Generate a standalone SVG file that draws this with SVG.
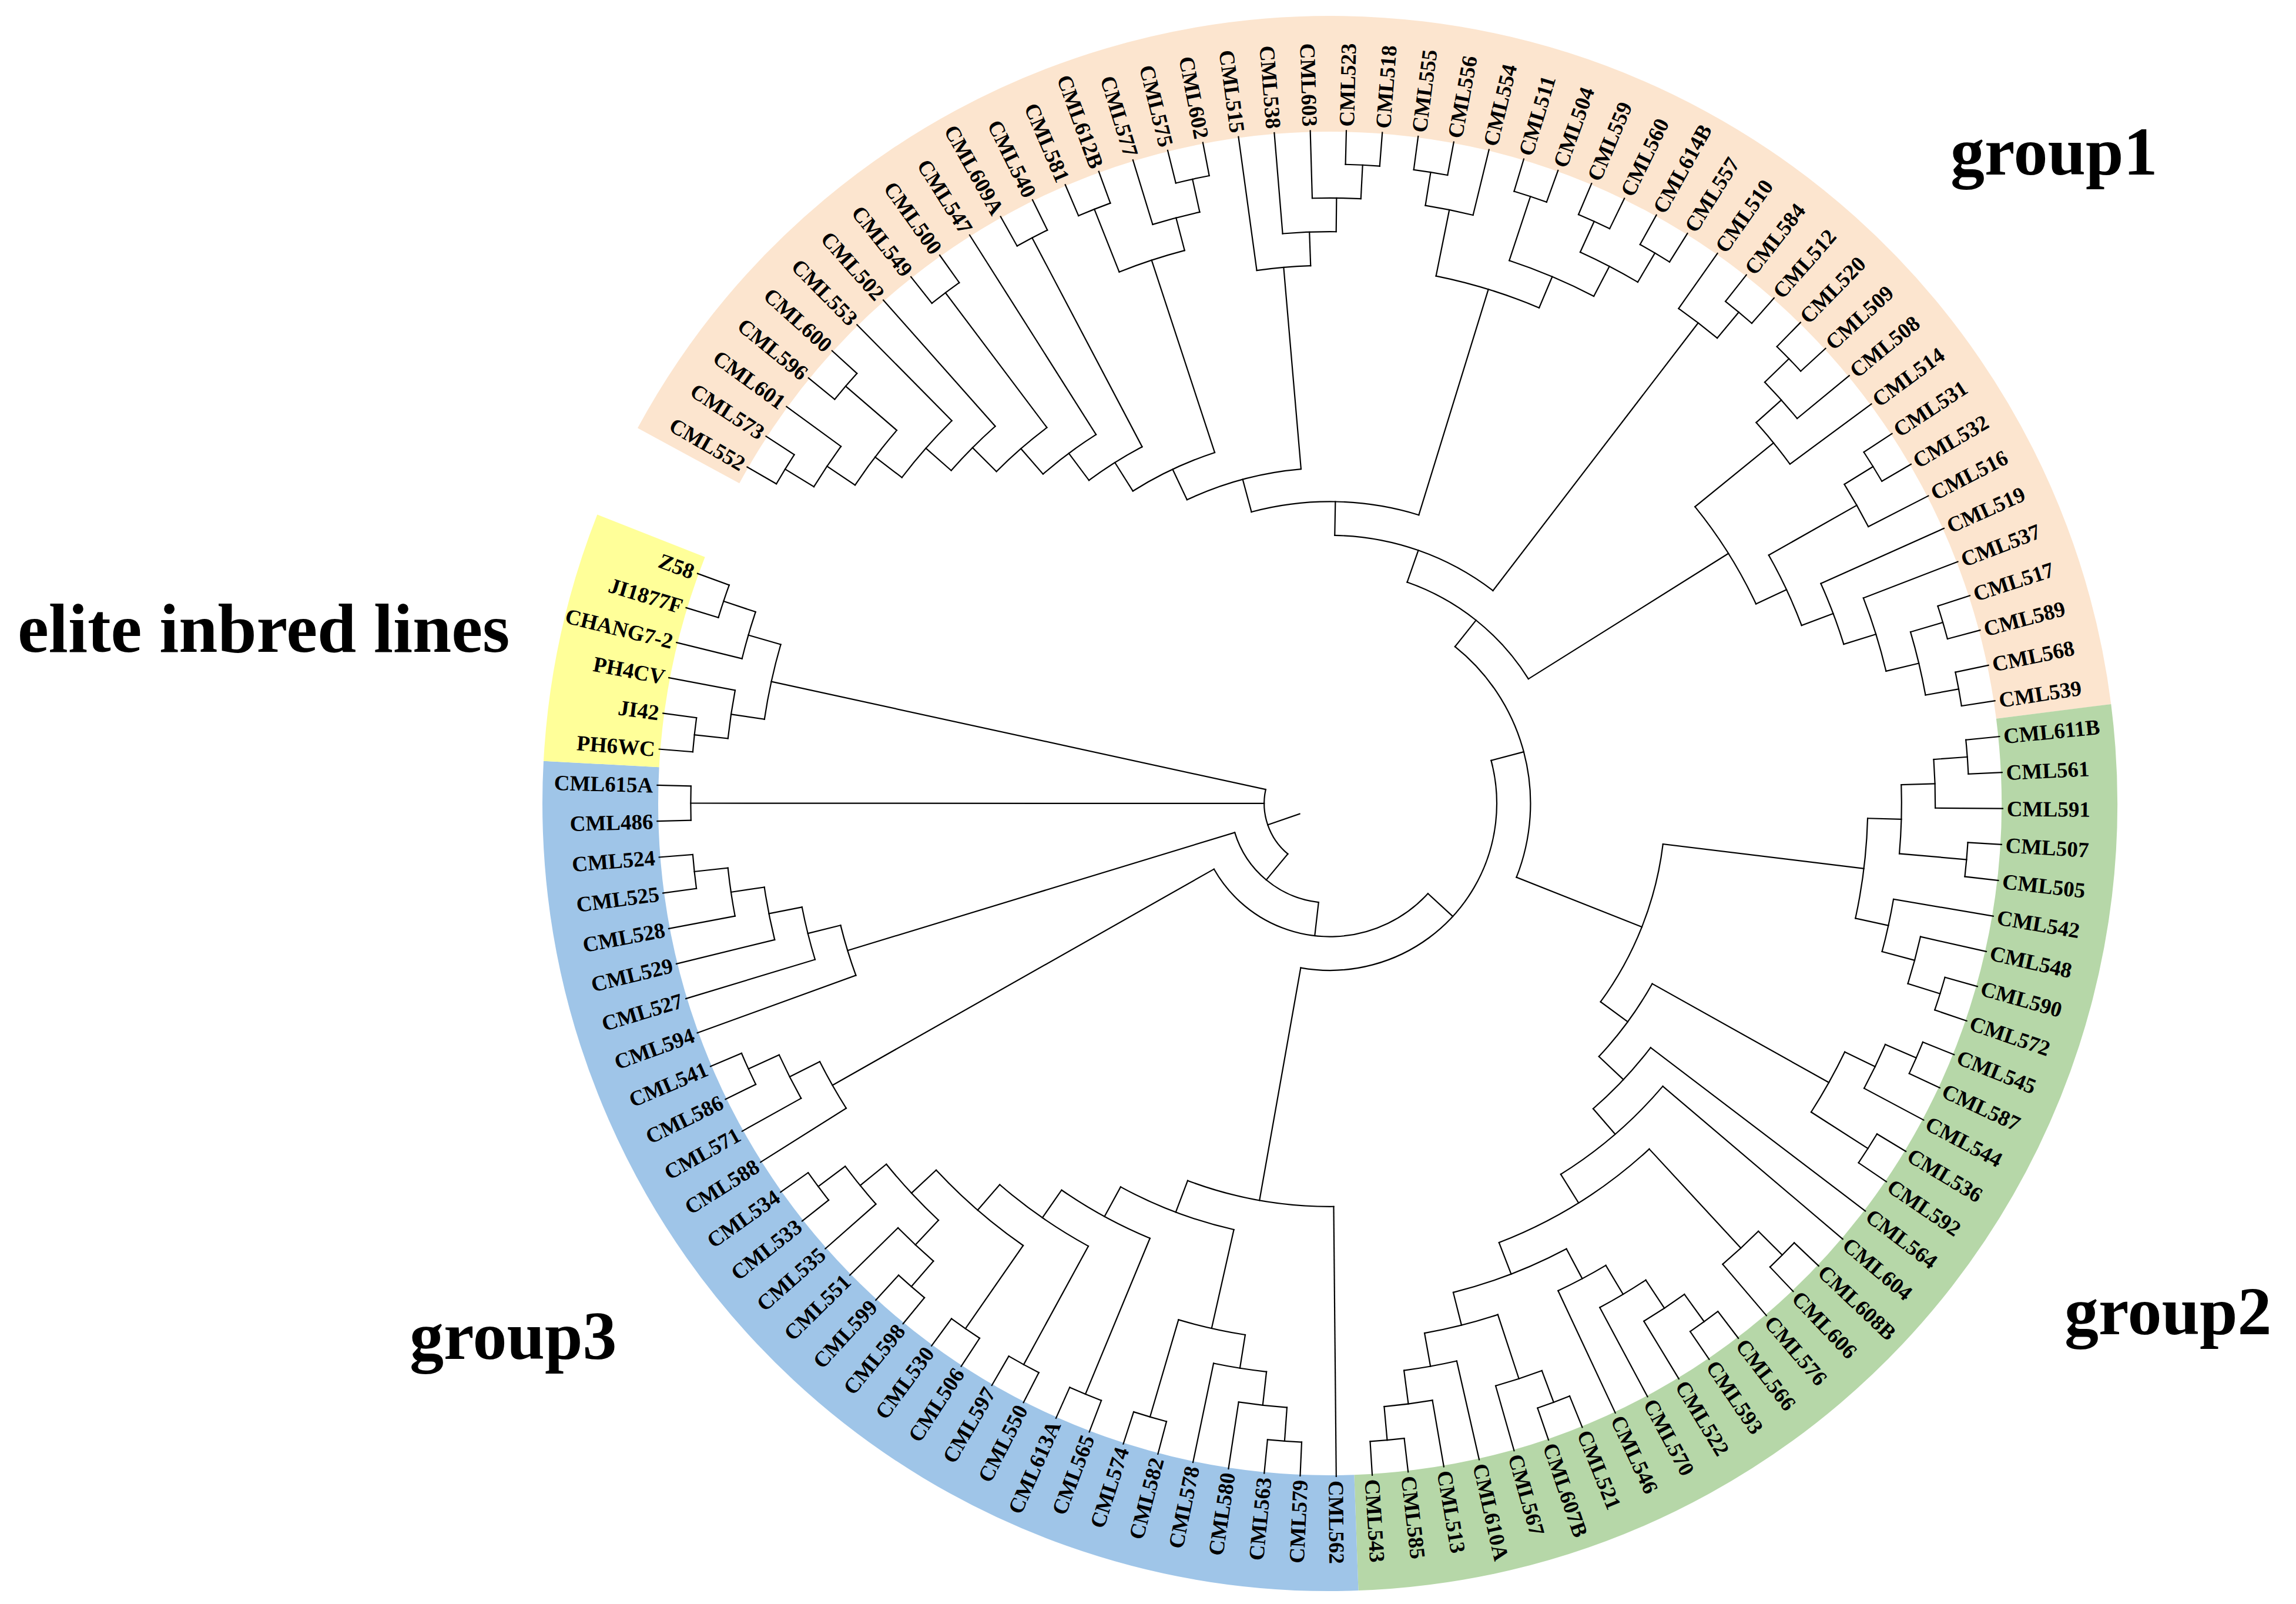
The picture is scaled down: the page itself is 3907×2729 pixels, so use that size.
<svg xmlns="http://www.w3.org/2000/svg" width="3907" height="2729" viewBox="0 0 3907 2729">
<style>
.c path,.c circle{fill:none;stroke:#000;stroke-width:2.2;stroke-linecap:square}
.t{font-family:"Liberation Serif","Times New Roman",serif;font-weight:bold;font-size:37px}
.f{text-anchor:end}
.g{font-family:"Liberation Serif","Times New Roman",serif;font-weight:bold;font-size:116px}
.band{fill:none;stroke-width:197}
</style>
<rect width="3907" height="2729" fill="#fff"/>
<g transform="translate(2263,1367)">
<g id="bands">
<circle class="band" r="1241.5" stroke="#FCE5CF" pathLength="360" stroke-dasharray="144.29 999" transform="rotate(208.465)"/>
<circle class="band" r="1241.5" stroke="#B6D7A8" pathLength="360" stroke-dasharray="95.17 999" transform="rotate(352.755)"/>
<circle class="band" r="1241.5" stroke="#9FC5E8" pathLength="360" stroke-dasharray="95.17 999" transform="rotate(447.925)"/>
<circle class="band" r="1241.5" stroke="#FFFF99" pathLength="360" stroke-dasharray="18.42 999" transform="rotate(543.095)"/>
</g>
<g id="connectors" class="c">
<!-- group1 -->
<circle r="1087.6" pathLength="360" stroke-dasharray="3.07 999" transform="rotate(210)"/>
<path d="M1087.6 0H1145" transform="rotate(210)"/><path d="M1087.6 0H1145" transform="rotate(213.07)"/>
<circle r="1030.2" pathLength="360" stroke-dasharray="4.605 999" transform="rotate(211.535)"/>
<path d="M1030.2 0H1087.6" transform="rotate(211.535)"/><path d="M1030.2 0H1145" transform="rotate(216.14)"/>
<circle r="1087.6" pathLength="360" stroke-dasharray="3.07 999" transform="rotate(219.21)"/>
<path d="M1087.6 0H1145" transform="rotate(219.21)"/><path d="M1087.6 0H1145" transform="rotate(222.28)"/>
<circle r="972.8" pathLength="360" stroke-dasharray="6.905 999" transform="rotate(213.84)"/>
<path d="M972.8 0H1030.2" transform="rotate(213.84)"/><path d="M972.8 0H1087.6" transform="rotate(220.745)"/>
<circle r="915.4" pathLength="360" stroke-dasharray="8.06 999" transform="rotate(217.29)"/>
<path d="M915.4 0H972.8" transform="rotate(217.29)"/><path d="M915.4 0H1145" transform="rotate(225.35)"/>
<circle r="858" pathLength="360" stroke-dasharray="7.10 999" transform="rotate(221.32)"/>
<path d="M858 0H915.4" transform="rotate(221.32)"/><path d="M858 0H1145" transform="rotate(228.42)"/>
<circle r="1087.6" pathLength="360" stroke-dasharray="3.07 999" transform="rotate(231.49)"/>
<path d="M1087.6 0H1145" transform="rotate(231.49)"/><path d="M1087.6 0H1145" transform="rotate(234.56)"/>
<circle r="800.6" pathLength="360" stroke-dasharray="8.155 999" transform="rotate(224.87)"/>
<path d="M800.6 0H858" transform="rotate(224.87)"/><path d="M800.6 0H1087.6" transform="rotate(233.025)"/>
<circle r="743.2" pathLength="360" stroke-dasharray="8.68 999" transform="rotate(228.95)"/>
<path d="M743.2 0H800.6" transform="rotate(228.95)"/><path d="M743.2 0H1145" transform="rotate(237.63)"/>
<circle r="1087.6" pathLength="360" stroke-dasharray="3.07 999" transform="rotate(240.70)"/>
<path d="M1087.6 0H1145" transform="rotate(240.70)"/><path d="M1087.6 0H1145" transform="rotate(243.77)"/>
<circle r="685.8" pathLength="360" stroke-dasharray="8.945 999" transform="rotate(233.29)"/>
<path d="M685.8 0H743.2" transform="rotate(233.29)"/><path d="M685.8 0H1087.6" transform="rotate(242.235)"/>
<circle r="1087.6" pathLength="360" stroke-dasharray="3.07 999" transform="rotate(246.84)"/>
<path d="M1087.6 0H1145" transform="rotate(246.84)"/><path d="M1087.6 0H1145" transform="rotate(249.91)"/>
<circle r="1087.6" pathLength="360" stroke-dasharray="3.07 999" transform="rotate(256.05)"/>
<path d="M1087.6 0H1145" transform="rotate(256.05)"/><path d="M1087.6 0H1145" transform="rotate(259.12)"/>
<circle r="1030.2" pathLength="360" stroke-dasharray="4.605 999" transform="rotate(252.98)"/>
<path d="M1030.2 0H1145" transform="rotate(252.98)"/><path d="M1030.2 0H1087.6" transform="rotate(257.585)"/>
<circle r="972.8" pathLength="360" stroke-dasharray="6.905 999" transform="rotate(248.375)"/>
<path d="M972.8 0H1087.6" transform="rotate(248.375)"/><path d="M972.8 0H1030.2" transform="rotate(255.28)"/>
<circle r="628.4" pathLength="360" stroke-dasharray="14.07 999" transform="rotate(237.76)"/>
<path d="M628.4 0H685.8" transform="rotate(237.76)"/><path d="M628.4 0H972.8" transform="rotate(251.83)"/>
<circle r="1087.6" pathLength="360" stroke-dasharray="3.07 999" transform="rotate(271.40)"/>
<path d="M1087.6 0H1145" transform="rotate(271.40)"/><path d="M1087.6 0H1145" transform="rotate(274.47)"/>
<circle r="1030.2" pathLength="360" stroke-dasharray="4.605 999" transform="rotate(268.33)"/>
<path d="M1030.2 0H1145" transform="rotate(268.33)"/><path d="M1030.2 0H1087.6" transform="rotate(272.935)"/>
<circle r="972.8" pathLength="360" stroke-dasharray="5.37 999" transform="rotate(265.26)"/>
<path d="M972.8 0H1145" transform="rotate(265.26)"/><path d="M972.8 0H1030.2" transform="rotate(270.63)"/>
<circle r="915.4" pathLength="360" stroke-dasharray="5.76 999" transform="rotate(262.19)"/>
<path d="M915.4 0H1145" transform="rotate(262.19)"/><path d="M915.4 0H972.8" transform="rotate(267.95)"/>
<circle r="571" pathLength="360" stroke-dasharray="20.27 999" transform="rotate(244.8)"/>
<path d="M571 0H628.4" transform="rotate(244.8)"/><path d="M571 0H915.4" transform="rotate(265.07)"/>
<circle r="1087.6" pathLength="360" stroke-dasharray="3.07 999" transform="rotate(277.54)"/>
<path d="M1087.6 0H1145" transform="rotate(277.54)"/><path d="M1087.6 0H1145" transform="rotate(280.61)"/>
<circle r="1030.2" pathLength="360" stroke-dasharray="4.605 999" transform="rotate(279.075)"/>
<path d="M1030.2 0H1087.6" transform="rotate(279.075)"/><path d="M1030.2 0H1145" transform="rotate(283.68)"/>
<circle r="1087.6" pathLength="360" stroke-dasharray="3.07 999" transform="rotate(286.75)"/>
<path d="M1087.6 0H1145" transform="rotate(286.75)"/><path d="M1087.6 0H1145" transform="rotate(289.82)"/>
<circle r="1087.6" pathLength="360" stroke-dasharray="3.07 999" transform="rotate(292.89)"/>
<path d="M1087.6 0H1145" transform="rotate(292.89)"/><path d="M1087.6 0H1145" transform="rotate(295.96)"/>
<circle r="1087.6" pathLength="360" stroke-dasharray="3.07 999" transform="rotate(299.03)"/>
<path d="M1087.6 0H1145" transform="rotate(299.03)"/><path d="M1087.6 0H1145" transform="rotate(302.10)"/>
<circle r="1030.2" pathLength="360" stroke-dasharray="6.14 999" transform="rotate(294.425)"/>
<path d="M1030.2 0H1087.6" transform="rotate(294.425)"/><path d="M1030.2 0H1087.6" transform="rotate(300.565)"/>
<circle r="972.8" pathLength="360" stroke-dasharray="9.21 999" transform="rotate(288.285)"/>
<path d="M972.8 0H1087.6" transform="rotate(288.285)"/><path d="M972.8 0H1030.2" transform="rotate(297.495)"/>
<circle r="915.4" pathLength="360" stroke-dasharray="11.51 999" transform="rotate(281.38)"/>
<path d="M915.4 0H1030.2" transform="rotate(281.38)"/><path d="M915.4 0H972.8" transform="rotate(292.89)"/>
<circle r="513.6" pathLength="360" stroke-dasharray="32.195 999" transform="rotate(254.94)"/>
<path d="M513.6 0H571" transform="rotate(254.94)"/><path d="M513.6 0H915.4" transform="rotate(287.135)"/>
<circle r="1087.6" pathLength="360" stroke-dasharray="3.07 999" transform="rotate(308.24)"/>
<path d="M1087.6 0H1145" transform="rotate(308.24)"/><path d="M1087.6 0H1145" transform="rotate(311.31)"/>
<circle r="1030.2" pathLength="360" stroke-dasharray="4.605 999" transform="rotate(305.17)"/>
<path d="M1030.2 0H1145" transform="rotate(305.17)"/><path d="M1030.2 0H1087.6" transform="rotate(309.775)"/>
<circle r="456.2" pathLength="360" stroke-dasharray="36.43 999" transform="rotate(271.04)"/>
<path d="M456.2 0H513.6" transform="rotate(271.04)"/><path d="M456.2 0H1030.2" transform="rotate(307.47)"/>
<circle r="1087.6" pathLength="360" stroke-dasharray="3.07 999" transform="rotate(314.38)"/>
<path d="M1087.6 0H1145" transform="rotate(314.38)"/><path d="M1087.6 0H1145" transform="rotate(317.45)"/>
<circle r="1030.2" pathLength="360" stroke-dasharray="4.605 999" transform="rotate(315.915)"/>
<path d="M1030.2 0H1087.6" transform="rotate(315.915)"/><path d="M1030.2 0H1145" transform="rotate(320.52)"/>
<circle r="972.8" pathLength="360" stroke-dasharray="5.37 999" transform="rotate(318.22)"/>
<path d="M972.8 0H1030.2" transform="rotate(318.22)"/><path d="M972.8 0H1145" transform="rotate(323.59)"/>
<circle r="1087.6" pathLength="360" stroke-dasharray="3.07 999" transform="rotate(326.66)"/>
<path d="M1087.6 0H1145" transform="rotate(326.66)"/><path d="M1087.6 0H1145" transform="rotate(329.73)"/>
<circle r="1030.2" pathLength="360" stroke-dasharray="4.605 999" transform="rotate(328.195)"/>
<path d="M1030.2 0H1087.6" transform="rotate(328.195)"/><path d="M1030.2 0H1145" transform="rotate(332.80)"/>
<circle r="1087.6" pathLength="360" stroke-dasharray="3.07 999" transform="rotate(342.01)"/>
<path d="M1087.6 0H1145" transform="rotate(342.01)"/><path d="M1087.6 0H1145" transform="rotate(345.08)"/>
<circle r="1087.6" pathLength="360" stroke-dasharray="3.07 999" transform="rotate(348.15)"/>
<path d="M1087.6 0H1145" transform="rotate(348.15)"/><path d="M1087.6 0H1145" transform="rotate(351.22)"/>
<circle r="1030.2" pathLength="360" stroke-dasharray="6.14 999" transform="rotate(343.545)"/>
<path d="M1030.2 0H1087.6" transform="rotate(343.545)"/><path d="M1030.2 0H1087.6" transform="rotate(349.685)"/>
<circle r="972.8" pathLength="360" stroke-dasharray="7.675 999" transform="rotate(338.94)"/>
<path d="M972.8 0H1145" transform="rotate(338.94)"/><path d="M972.8 0H1030.2" transform="rotate(346.615)"/>
<circle r="915.4" pathLength="360" stroke-dasharray="6.91 999" transform="rotate(335.87)"/>
<path d="M915.4 0H1145" transform="rotate(335.87)"/><path d="M915.4 0H972.8" transform="rotate(342.78)"/>
<circle r="858" pathLength="360" stroke-dasharray="8.825 999" transform="rotate(330.5)"/>
<path d="M858 0H1030.2" transform="rotate(330.5)"/><path d="M858 0H915.4" transform="rotate(339.325)"/>
<circle r="800.6" pathLength="360" stroke-dasharray="14.01 999" transform="rotate(320.9)"/>
<path d="M800.6 0H972.8" transform="rotate(320.9)"/><path d="M800.6 0H858" transform="rotate(334.91)"/>
<circle r="398.8" pathLength="360" stroke-dasharray="38.65 999" transform="rotate(289.255)"/>
<path d="M398.8 0H456.2" transform="rotate(289.255)"/><path d="M398.8 0H800.6" transform="rotate(327.905)"/>
<!-- group2 -->
<circle r="1087.6" pathLength="360" stroke-dasharray="3.07 999" transform="rotate(354.29)"/>
<path d="M1087.6 0H1145" transform="rotate(354.29)"/><path d="M1087.6 0H1145" transform="rotate(357.36)"/>
<circle r="1030.2" pathLength="360" stroke-dasharray="4.605 999" transform="rotate(355.825)"/>
<path d="M1030.2 0H1087.6" transform="rotate(355.825)"/><path d="M1030.2 0H1145" transform="rotate(360.43)"/>
<circle r="1087.6" pathLength="360" stroke-dasharray="3.07 999" transform="rotate(363.50)"/>
<path d="M1087.6 0H1145" transform="rotate(363.50)"/><path d="M1087.6 0H1145" transform="rotate(366.57)"/>
<circle r="972.8" pathLength="360" stroke-dasharray="6.9075 999" transform="rotate(358.1275)"/>
<path d="M972.8 0H1030.2" transform="rotate(358.1275)"/><path d="M972.8 0H1087.6" transform="rotate(365.035)"/>
<circle r="1087.6" pathLength="360" stroke-dasharray="3.07 999" transform="rotate(375.78)"/>
<path d="M1087.6 0H1145" transform="rotate(375.78)"/><path d="M1087.6 0H1145" transform="rotate(378.85)"/>
<circle r="1030.2" pathLength="360" stroke-dasharray="4.605 999" transform="rotate(372.71)"/>
<path d="M1030.2 0H1145" transform="rotate(372.71)"/><path d="M1030.2 0H1087.6" transform="rotate(377.315)"/>
<circle r="972.8" pathLength="360" stroke-dasharray="5.3725 999" transform="rotate(369.64)"/>
<path d="M972.8 0H1145" transform="rotate(369.64)"/><path d="M972.8 0H1030.2" transform="rotate(375.0125)"/>
<circle r="915.4" pathLength="360" stroke-dasharray="10.746 999" transform="rotate(361.58)"/>
<path d="M915.4 0H972.8" transform="rotate(361.58)"/><path d="M915.4 0H972.8" transform="rotate(372.326)"/>
<circle r="1087.6" pathLength="360" stroke-dasharray="3.07 999" transform="rotate(381.92)"/>
<path d="M1087.6 0H1145" transform="rotate(381.92)"/><path d="M1087.6 0H1145" transform="rotate(384.99)"/>
<circle r="1030.2" pathLength="360" stroke-dasharray="4.605 999" transform="rotate(383.455)"/>
<path d="M1030.2 0H1087.6" transform="rotate(383.455)"/><path d="M1030.2 0H1145" transform="rotate(388.06)"/>
<circle r="1087.6" pathLength="360" stroke-dasharray="3.07 999" transform="rotate(391.13)"/>
<path d="M1087.6 0H1145" transform="rotate(391.13)"/><path d="M1087.6 0H1145" transform="rotate(394.20)"/>
<circle r="972.8" pathLength="360" stroke-dasharray="6.9075 999" transform="rotate(385.7575)"/>
<path d="M972.8 0H1030.2" transform="rotate(385.7575)"/><path d="M972.8 0H1087.6" transform="rotate(392.665)"/>
<circle r="1087.6" pathLength="360" stroke-dasharray="3.07 999" transform="rotate(403.41)"/>
<path d="M1087.6 0H1145" transform="rotate(403.41)"/><path d="M1087.6 0H1145" transform="rotate(406.48)"/>
<circle r="1030.2" pathLength="360" stroke-dasharray="4.605 999" transform="rotate(404.945)"/>
<path d="M1030.2 0H1087.6" transform="rotate(404.945)"/><path d="M1030.2 0H1145" transform="rotate(409.55)"/>
<circle r="1087.6" pathLength="360" stroke-dasharray="3.07 999" transform="rotate(412.62)"/>
<path d="M1087.6 0H1145" transform="rotate(412.62)"/><path d="M1087.6 0H1145" transform="rotate(415.69)"/>
<circle r="1030.2" pathLength="360" stroke-dasharray="4.605 999" transform="rotate(414.155)"/>
<path d="M1030.2 0H1087.6" transform="rotate(414.155)"/><path d="M1030.2 0H1145" transform="rotate(418.76)"/>
<circle r="972.8" pathLength="360" stroke-dasharray="5.3725 999" transform="rotate(416.4575)"/>
<path d="M972.8 0H1030.2" transform="rotate(416.4575)"/><path d="M972.8 0H1145" transform="rotate(421.83)"/>
<circle r="915.4" pathLength="360" stroke-dasharray="5.756 999" transform="rotate(419.144)"/>
<path d="M915.4 0H972.8" transform="rotate(419.144)"/><path d="M915.4 0H1145" transform="rotate(424.90)"/>
<circle r="1087.6" pathLength="360" stroke-dasharray="3.07 999" transform="rotate(427.97)"/>
<path d="M1087.6 0H1145" transform="rotate(427.97)"/><path d="M1087.6 0H1145" transform="rotate(431.04)"/>
<circle r="1030.2" pathLength="360" stroke-dasharray="4.605 999" transform="rotate(429.505)"/>
<path d="M1030.2 0H1087.6" transform="rotate(429.505)"/><path d="M1030.2 0H1145" transform="rotate(434.11)"/>
<circle r="1087.6" pathLength="360" stroke-dasharray="3.07 999" transform="rotate(443.32)"/>
<path d="M1087.6 0H1145" transform="rotate(443.32)"/><path d="M1087.6 0H1145" transform="rotate(446.39)"/>
<circle r="1030.2" pathLength="360" stroke-dasharray="4.605 999" transform="rotate(440.25)"/>
<path d="M1030.2 0H1145" transform="rotate(440.25)"/><path d="M1030.2 0H1087.6" transform="rotate(444.855)"/>
<circle r="972.8" pathLength="360" stroke-dasharray="5.3725 999" transform="rotate(437.18)"/>
<path d="M972.8 0H1145" transform="rotate(437.18)"/><path d="M972.8 0H1030.2" transform="rotate(442.5525)"/>
<circle r="915.4" pathLength="360" stroke-dasharray="8.059 999" transform="rotate(431.8075)"/>
<path d="M915.4 0H1030.2" transform="rotate(431.8075)"/><path d="M915.4 0H972.8" transform="rotate(439.866)"/>
<circle r="858" pathLength="360" stroke-dasharray="13.815 999" transform="rotate(422.022)"/>
<path d="M858 0H915.4" transform="rotate(422.022)"/><path d="M858 0H915.4" transform="rotate(435.837)"/>
<circle r="800.6" pathLength="360" stroke-dasharray="21.682 999" transform="rotate(407.2475)"/>
<path d="M800.6 0H1030.2" transform="rotate(407.2475)"/><path d="M800.6 0H858" transform="rotate(428.93)"/>
<circle r="743.2" pathLength="360" stroke-dasharray="17.749 999" transform="rotate(400.34)"/>
<path d="M743.2 0H1145" transform="rotate(400.34)"/><path d="M743.2 0H800.6" transform="rotate(418.089)"/>
<circle r="685.8" pathLength="360" stroke-dasharray="11.9445 999" transform="rotate(397.27)"/>
<path d="M685.8 0H1145" transform="rotate(397.27)"/><path d="M685.8 0H743.2" transform="rotate(409.2145)"/>
<circle r="628.4" pathLength="360" stroke-dasharray="14.031 999" transform="rotate(389.211)"/>
<path d="M628.4 0H972.8" transform="rotate(389.211)"/><path d="M628.4 0H685.8" transform="rotate(403.242)"/>
<circle r="571" pathLength="360" stroke-dasharray="29.2735 999" transform="rotate(366.953)"/>
<path d="M571 0H915.4" transform="rotate(366.953)"/><path d="M571 0H628.4" transform="rotate(396.2265)"/>
<circle r="341.4" pathLength="360" stroke-dasharray="73.01 999" transform="rotate(308.58)"/>
<path d="M341.4 0H398.8" transform="rotate(308.58)"/><path d="M341.4 0H571" transform="rotate(381.59)"/>
<!-- group3 -->
<circle r="1087.6" pathLength="360" stroke-dasharray="3.07 999" transform="rotate(452.53)"/>
<path d="M1087.6 0H1145" transform="rotate(452.53)"/><path d="M1087.6 0H1145" transform="rotate(455.60)"/>
<circle r="1030.2" pathLength="360" stroke-dasharray="4.605 999" transform="rotate(454.065)"/>
<path d="M1030.2 0H1087.6" transform="rotate(454.065)"/><path d="M1030.2 0H1145" transform="rotate(458.67)"/>
<circle r="972.8" pathLength="360" stroke-dasharray="5.3725 999" transform="rotate(456.3675)"/>
<path d="M972.8 0H1030.2" transform="rotate(456.3675)"/><path d="M972.8 0H1145" transform="rotate(461.74)"/>
<circle r="1087.6" pathLength="360" stroke-dasharray="3.07 999" transform="rotate(464.81)"/>
<path d="M1087.6 0H1145" transform="rotate(464.81)"/><path d="M1087.6 0H1145" transform="rotate(467.88)"/>
<circle r="915.4" pathLength="360" stroke-dasharray="7.291 999" transform="rotate(459.054)"/>
<path d="M915.4 0H972.8" transform="rotate(459.054)"/><path d="M915.4 0H1087.6" transform="rotate(466.345)"/>
<circle r="1087.6" pathLength="360" stroke-dasharray="3.07 999" transform="rotate(470.95)"/>
<path d="M1087.6 0H1145" transform="rotate(470.95)"/><path d="M1087.6 0H1145" transform="rotate(474.02)"/>
<circle r="1087.6" pathLength="360" stroke-dasharray="3.07 999" transform="rotate(477.09)"/>
<path d="M1087.6 0H1145" transform="rotate(477.09)"/><path d="M1087.6 0H1145" transform="rotate(480.16)"/>
<circle r="1087.6" pathLength="360" stroke-dasharray="3.07 999" transform="rotate(483.23)"/>
<path d="M1087.6 0H1145" transform="rotate(483.23)"/><path d="M1087.6 0H1145" transform="rotate(486.30)"/>
<circle r="1087.6" pathLength="360" stroke-dasharray="3.07 999" transform="rotate(489.37)"/>
<path d="M1087.6 0H1145" transform="rotate(489.37)"/><path d="M1087.6 0H1145" transform="rotate(492.44)"/>
<circle r="1030.2" pathLength="360" stroke-dasharray="4.605 999" transform="rotate(490.905)"/>
<path d="M1030.2 0H1087.6" transform="rotate(490.905)"/><path d="M1030.2 0H1145" transform="rotate(495.51)"/>
<circle r="1087.6" pathLength="360" stroke-dasharray="3.07 999" transform="rotate(501.65)"/>
<path d="M1087.6 0H1145" transform="rotate(501.65)"/><path d="M1087.6 0H1145" transform="rotate(504.72)"/>
<circle r="1030.2" pathLength="360" stroke-dasharray="4.605 999" transform="rotate(498.58)"/>
<path d="M1030.2 0H1145" transform="rotate(498.58)"/><path d="M1030.2 0H1087.6" transform="rotate(503.185)"/>
<circle r="972.8" pathLength="360" stroke-dasharray="7.675 999" transform="rotate(493.2075)"/>
<path d="M972.8 0H1030.2" transform="rotate(493.2075)"/><path d="M972.8 0H1030.2" transform="rotate(500.8825)"/>
<circle r="915.4" pathLength="360" stroke-dasharray="12.28 999" transform="rotate(484.765)"/>
<path d="M915.4 0H1087.6" transform="rotate(484.765)"/><path d="M915.4 0H972.8" transform="rotate(497.045)"/>
<circle r="858" pathLength="360" stroke-dasharray="12.28 999" transform="rotate(478.625)"/>
<path d="M858 0H1087.6" transform="rotate(478.625)"/><path d="M858 0H915.4" transform="rotate(490.905)"/>
<circle r="800.6" pathLength="360" stroke-dasharray="12.28 999" transform="rotate(472.485)"/>
<path d="M800.6 0H1087.6" transform="rotate(472.485)"/><path d="M800.6 0H858" transform="rotate(484.765)"/>
<circle r="743.2" pathLength="360" stroke-dasharray="15.9255 999" transform="rotate(462.6995)"/>
<path d="M743.2 0H915.4" transform="rotate(462.6995)"/><path d="M743.2 0H800.6" transform="rotate(478.625)"/>
<circle r="685.8" pathLength="360" stroke-dasharray="21.202 999" transform="rotate(449.46)"/>
<path d="M685.8 0H1145" transform="rotate(449.46)"/><path d="M685.8 0H743.2" transform="rotate(470.662)"/>
<circle r="284" pathLength="360" stroke-dasharray="114.976 999" transform="rotate(345.085)"/>
<path d="M284 0H341.4" transform="rotate(345.085)"/><path d="M284 0H685.8" transform="rotate(460.061)"/>
<circle r="1087.6" pathLength="360" stroke-dasharray="3.07 999" transform="rotate(513.93)"/>
<path d="M1087.6 0H1145" transform="rotate(513.93)"/><path d="M1087.6 0H1145" transform="rotate(517.00)"/>
<circle r="1030.2" pathLength="360" stroke-dasharray="4.605 999" transform="rotate(510.86)"/>
<path d="M1030.2 0H1145" transform="rotate(510.86)"/><path d="M1030.2 0H1087.6" transform="rotate(515.465)"/>
<circle r="972.8" pathLength="360" stroke-dasharray="5.3725 999" transform="rotate(507.79)"/>
<path d="M972.8 0H1145" transform="rotate(507.79)"/><path d="M972.8 0H1030.2" transform="rotate(513.1625)"/>
<circle r="226.6" pathLength="360" stroke-dasharray="107.903 999" transform="rotate(402.573)"/>
<path d="M226.6 0H284" transform="rotate(402.573)"/><path d="M226.6 0H972.8" transform="rotate(510.476)"/>
<circle r="1087.6" pathLength="360" stroke-dasharray="3.07 999" transform="rotate(532.35)"/>
<path d="M1087.6 0H1145" transform="rotate(532.35)"/><path d="M1087.6 0H1145" transform="rotate(535.42)"/>
<circle r="1030.2" pathLength="360" stroke-dasharray="4.605 999" transform="rotate(529.28)"/>
<path d="M1030.2 0H1145" transform="rotate(529.28)"/><path d="M1030.2 0H1087.6" transform="rotate(533.885)"/>
<circle r="972.8" pathLength="360" stroke-dasharray="5.3725 999" transform="rotate(526.21)"/>
<path d="M972.8 0H1145" transform="rotate(526.21)"/><path d="M972.8 0H1030.2" transform="rotate(531.5825)"/>
<circle r="915.4" pathLength="360" stroke-dasharray="5.756 999" transform="rotate(523.14)"/>
<path d="M915.4 0H1145" transform="rotate(523.14)"/><path d="M915.4 0H972.8" transform="rotate(528.896)"/>
<circle r="858" pathLength="360" stroke-dasharray="5.948 999" transform="rotate(520.07)"/>
<path d="M858 0H1145" transform="rotate(520.07)"/><path d="M858 0H915.4" transform="rotate(526.018)"/>
<circle r="169.2" pathLength="360" stroke-dasharray="66.5195 999" transform="rotate(456.5245)"/>
<path d="M169.2 0H226.6" transform="rotate(456.5245)"/><path d="M169.2 0H858" transform="rotate(523.044)"/>
<!-- CML486/CML615A and elite -->
<circle r="1087.6" pathLength="360" stroke-dasharray="3.07 999" transform="rotate(538.49)"/>
<path d="M1087.6 0H1145" transform="rotate(538.49)"/><path d="M1087.6 0H1145" transform="rotate(541.56)"/>
<circle r="1087.6" pathLength="360" stroke-dasharray="3.07 999" transform="rotate(556.91)"/>
<path d="M1087.6 0H1145" transform="rotate(556.91)"/><path d="M1087.6 0H1145" transform="rotate(559.98)"/>
<circle r="1030.2" pathLength="360" stroke-dasharray="4.605 999" transform="rotate(553.84)"/>
<path d="M1030.2 0H1145" transform="rotate(553.84)"/><path d="M1030.2 0H1087.6" transform="rotate(558.445)"/>
<circle r="1087.6" pathLength="360" stroke-dasharray="3.07 999" transform="rotate(544.63)"/>
<path d="M1087.6 0H1145" transform="rotate(544.63)"/><path d="M1087.6 0H1145" transform="rotate(547.70)"/>
<circle r="1030.2" pathLength="360" stroke-dasharray="4.605 999" transform="rotate(546.165)"/>
<path d="M1030.2 0H1087.6" transform="rotate(546.165)"/><path d="M1030.2 0H1145" transform="rotate(550.77)"/>
<circle r="972.8" pathLength="360" stroke-dasharray="7.675 999" transform="rotate(548.4675)"/>
<path d="M972.8 0H1030.2" transform="rotate(548.4675)"/><path d="M972.8 0H1030.2" transform="rotate(556.1425)"/>
<!-- root -->
<circle r="111.8" pathLength="360" stroke-dasharray="62.521 999" transform="rotate(489.784)"/>
<path d="M111.8 0H169.2" transform="rotate(489.784)"/><path d="M111.8 0H1087.6" transform="rotate(540.025)"/><path d="M111.8 0H972.8" transform="rotate(552.305)"/>
<path d="M54.4 0H111.8" transform="rotate(521.045)"/>
</g>
<g id="leaves" class="t">
<g id="CML552"><text class="f" dy=".35em" transform="rotate(210.00) translate(1152 0) rotate(180)">CML552</text></g>
<g id="CML573"><text class="f" dy=".35em" transform="rotate(213.07) translate(1152 0) rotate(180)">CML573</text></g>
<g id="CML601"><text class="f" dy=".35em" transform="rotate(216.14) translate(1152 0) rotate(180)">CML601</text></g>
<g id="CML596"><text class="f" dy=".35em" transform="rotate(219.21) translate(1152 0) rotate(180)">CML596</text></g>
<g id="CML600"><text class="f" dy=".35em" transform="rotate(222.28) translate(1152 0) rotate(180)">CML600</text></g>
<g id="CML553"><text class="f" dy=".35em" transform="rotate(225.35) translate(1152 0) rotate(180)">CML553</text></g>
<g id="CML502"><text class="f" dy=".35em" transform="rotate(228.42) translate(1152 0) rotate(180)">CML502</text></g>
<g id="CML549"><text class="f" dy=".35em" transform="rotate(231.49) translate(1152 0) rotate(180)">CML549</text></g>
<g id="CML500"><text class="f" dy=".35em" transform="rotate(234.56) translate(1152 0) rotate(180)">CML500</text></g>
<g id="CML547"><text class="f" dy=".35em" transform="rotate(237.63) translate(1152 0) rotate(180)">CML547</text></g>
<g id="CML609A"><text class="f" dy=".35em" transform="rotate(240.70) translate(1152 0) rotate(180)">CML609A</text></g>
<g id="CML540"><text class="f" dy=".35em" transform="rotate(243.77) translate(1152 0) rotate(180)">CML540</text></g>
<g id="CML581"><text class="f" dy=".35em" transform="rotate(246.84) translate(1152 0) rotate(180)">CML581</text></g>
<g id="CML612B"><text class="f" dy=".35em" transform="rotate(249.91) translate(1152 0) rotate(180)">CML612B</text></g>
<g id="CML577"><text class="f" dy=".35em" transform="rotate(252.98) translate(1152 0) rotate(180)">CML577</text></g>
<g id="CML575"><text class="f" dy=".35em" transform="rotate(256.05) translate(1152 0) rotate(180)">CML575</text></g>
<g id="CML602"><text class="f" dy=".35em" transform="rotate(259.12) translate(1152 0) rotate(180)">CML602</text></g>
<g id="CML515"><text class="f" dy=".35em" transform="rotate(262.19) translate(1152 0) rotate(180)">CML515</text></g>
<g id="CML538"><text class="f" dy=".35em" transform="rotate(265.26) translate(1152 0) rotate(180)">CML538</text></g>
<g id="CML603"><text class="f" dy=".35em" transform="rotate(268.33) translate(1152 0) rotate(180)">CML603</text></g>
<g id="CML523"><text dy=".35em" transform="rotate(271.40) translate(1152 0)">CML523</text></g>
<g id="CML518"><text dy=".35em" transform="rotate(274.47) translate(1152 0)">CML518</text></g>
<g id="CML555"><text dy=".35em" transform="rotate(277.54) translate(1152 0)">CML555</text></g>
<g id="CML556"><text dy=".35em" transform="rotate(280.61) translate(1152 0)">CML556</text></g>
<g id="CML554"><text dy=".35em" transform="rotate(283.68) translate(1152 0)">CML554</text></g>
<g id="CML511"><text dy=".35em" transform="rotate(286.75) translate(1152 0)">CML511</text></g>
<g id="CML504"><text dy=".35em" transform="rotate(289.82) translate(1152 0)">CML504</text></g>
<g id="CML559"><text dy=".35em" transform="rotate(292.89) translate(1152 0)">CML559</text></g>
<g id="CML560"><text dy=".35em" transform="rotate(295.96) translate(1152 0)">CML560</text></g>
<g id="CML614B"><text dy=".35em" transform="rotate(299.03) translate(1152 0)">CML614B</text></g>
<g id="CML557"><text dy=".35em" transform="rotate(302.10) translate(1152 0)">CML557</text></g>
<g id="CML510"><text dy=".35em" transform="rotate(305.17) translate(1152 0)">CML510</text></g>
<g id="CML584"><text dy=".35em" transform="rotate(308.24) translate(1152 0)">CML584</text></g>
<g id="CML512"><text dy=".35em" transform="rotate(311.31) translate(1152 0)">CML512</text></g>
<g id="CML520"><text dy=".35em" transform="rotate(314.38) translate(1152 0)">CML520</text></g>
<g id="CML509"><text dy=".35em" transform="rotate(317.45) translate(1152 0)">CML509</text></g>
<g id="CML508"><text dy=".35em" transform="rotate(320.52) translate(1152 0)">CML508</text></g>
<g id="CML514"><text dy=".35em" transform="rotate(323.59) translate(1152 0)">CML514</text></g>
<g id="CML531"><text dy=".35em" transform="rotate(326.66) translate(1152 0)">CML531</text></g>
<g id="CML532"><text dy=".35em" transform="rotate(329.73) translate(1152 0)">CML532</text></g>
<g id="CML516"><text dy=".35em" transform="rotate(332.80) translate(1152 0)">CML516</text></g>
<g id="CML519"><text dy=".35em" transform="rotate(335.87) translate(1152 0)">CML519</text></g>
<g id="CML537"><text dy=".35em" transform="rotate(338.94) translate(1152 0)">CML537</text></g>
<g id="CML517"><text dy=".35em" transform="rotate(342.01) translate(1152 0)">CML517</text></g>
<g id="CML589"><text dy=".35em" transform="rotate(345.08) translate(1152 0)">CML589</text></g>
<g id="CML568"><text dy=".35em" transform="rotate(348.15) translate(1152 0)">CML568</text></g>
<g id="CML539"><text dy=".35em" transform="rotate(351.22) translate(1152 0)">CML539</text></g>
<g id="CML611B"><text dy=".35em" transform="rotate(354.29) translate(1152 0)">CML611B</text></g>
<g id="CML561"><text dy=".35em" transform="rotate(357.36) translate(1152 0)">CML561</text></g>
<g id="CML591"><text dy=".35em" transform="rotate(360.43) translate(1152 0)">CML591</text></g>
<g id="CML507"><text dy=".35em" transform="rotate(363.50) translate(1152 0)">CML507</text></g>
<g id="CML505"><text dy=".35em" transform="rotate(366.57) translate(1152 0)">CML505</text></g>
<g id="CML542"><text dy=".35em" transform="rotate(369.64) translate(1152 0)">CML542</text></g>
<g id="CML548"><text dy=".35em" transform="rotate(372.71) translate(1152 0)">CML548</text></g>
<g id="CML590"><text dy=".35em" transform="rotate(375.78) translate(1152 0)">CML590</text></g>
<g id="CML572"><text dy=".35em" transform="rotate(378.85) translate(1152 0)">CML572</text></g>
<g id="CML545"><text dy=".35em" transform="rotate(381.92) translate(1152 0)">CML545</text></g>
<g id="CML587"><text dy=".35em" transform="rotate(384.99) translate(1152 0)">CML587</text></g>
<g id="CML544"><text dy=".35em" transform="rotate(388.06) translate(1152 0)">CML544</text></g>
<g id="CML536"><text dy=".35em" transform="rotate(391.13) translate(1152 0)">CML536</text></g>
<g id="CML592"><text dy=".35em" transform="rotate(394.20) translate(1152 0)">CML592</text></g>
<g id="CML564"><text dy=".35em" transform="rotate(397.27) translate(1152 0)">CML564</text></g>
<g id="CML604"><text dy=".35em" transform="rotate(400.34) translate(1152 0)">CML604</text></g>
<g id="CML608B"><text dy=".35em" transform="rotate(403.41) translate(1152 0)">CML608B</text></g>
<g id="CML606"><text dy=".35em" transform="rotate(406.48) translate(1152 0)">CML606</text></g>
<g id="CML576"><text dy=".35em" transform="rotate(409.55) translate(1152 0)">CML576</text></g>
<g id="CML566"><text dy=".35em" transform="rotate(412.62) translate(1152 0)">CML566</text></g>
<g id="CML593"><text dy=".35em" transform="rotate(415.69) translate(1152 0)">CML593</text></g>
<g id="CML522"><text dy=".35em" transform="rotate(418.76) translate(1152 0)">CML522</text></g>
<g id="CML570"><text dy=".35em" transform="rotate(421.83) translate(1152 0)">CML570</text></g>
<g id="CML546"><text dy=".35em" transform="rotate(424.90) translate(1152 0)">CML546</text></g>
<g id="CML521"><text dy=".35em" transform="rotate(427.97) translate(1152 0)">CML521</text></g>
<g id="CML607B"><text dy=".35em" transform="rotate(431.04) translate(1152 0)">CML607B</text></g>
<g id="CML567"><text dy=".35em" transform="rotate(434.11) translate(1152 0)">CML567</text></g>
<g id="CML610A"><text dy=".35em" transform="rotate(437.18) translate(1152 0)">CML610A</text></g>
<g id="CML513"><text dy=".35em" transform="rotate(440.25) translate(1152 0)">CML513</text></g>
<g id="CML585"><text dy=".35em" transform="rotate(443.32) translate(1152 0)">CML585</text></g>
<g id="CML543"><text dy=".35em" transform="rotate(446.39) translate(1152 0)">CML543</text></g>
<g id="CML562"><text dy=".35em" transform="rotate(449.46) translate(1152 0)">CML562</text></g>
<g id="CML579"><text class="f" dy=".35em" transform="rotate(452.53) translate(1152 0) rotate(180)">CML579</text></g>
<g id="CML563"><text class="f" dy=".35em" transform="rotate(455.60) translate(1152 0) rotate(180)">CML563</text></g>
<g id="CML580"><text class="f" dy=".35em" transform="rotate(458.67) translate(1152 0) rotate(180)">CML580</text></g>
<g id="CML578"><text class="f" dy=".35em" transform="rotate(461.74) translate(1152 0) rotate(180)">CML578</text></g>
<g id="CML582"><text class="f" dy=".35em" transform="rotate(464.81) translate(1152 0) rotate(180)">CML582</text></g>
<g id="CML574"><text class="f" dy=".35em" transform="rotate(467.88) translate(1152 0) rotate(180)">CML574</text></g>
<g id="CML565"><text class="f" dy=".35em" transform="rotate(470.95) translate(1152 0) rotate(180)">CML565</text></g>
<g id="CML613A"><text class="f" dy=".35em" transform="rotate(474.02) translate(1152 0) rotate(180)">CML613A</text></g>
<g id="CML550"><text class="f" dy=".35em" transform="rotate(477.09) translate(1152 0) rotate(180)">CML550</text></g>
<g id="CML597"><text class="f" dy=".35em" transform="rotate(480.16) translate(1152 0) rotate(180)">CML597</text></g>
<g id="CML506"><text class="f" dy=".35em" transform="rotate(483.23) translate(1152 0) rotate(180)">CML506</text></g>
<g id="CML530"><text class="f" dy=".35em" transform="rotate(486.30) translate(1152 0) rotate(180)">CML530</text></g>
<g id="CML598"><text class="f" dy=".35em" transform="rotate(489.37) translate(1152 0) rotate(180)">CML598</text></g>
<g id="CML599"><text class="f" dy=".35em" transform="rotate(492.44) translate(1152 0) rotate(180)">CML599</text></g>
<g id="CML551"><text class="f" dy=".35em" transform="rotate(495.51) translate(1152 0) rotate(180)">CML551</text></g>
<g id="CML535"><text class="f" dy=".35em" transform="rotate(498.58) translate(1152 0) rotate(180)">CML535</text></g>
<g id="CML533"><text class="f" dy=".35em" transform="rotate(501.65) translate(1152 0) rotate(180)">CML533</text></g>
<g id="CML534"><text class="f" dy=".35em" transform="rotate(504.72) translate(1152 0) rotate(180)">CML534</text></g>
<g id="CML588"><text class="f" dy=".35em" transform="rotate(507.79) translate(1152 0) rotate(180)">CML588</text></g>
<g id="CML571"><text class="f" dy=".35em" transform="rotate(510.86) translate(1152 0) rotate(180)">CML571</text></g>
<g id="CML586"><text class="f" dy=".35em" transform="rotate(513.93) translate(1152 0) rotate(180)">CML586</text></g>
<g id="CML541"><text class="f" dy=".35em" transform="rotate(517.00) translate(1152 0) rotate(180)">CML541</text></g>
<g id="CML594"><text class="f" dy=".35em" transform="rotate(520.07) translate(1152 0) rotate(180)">CML594</text></g>
<g id="CML527"><text class="f" dy=".35em" transform="rotate(523.14) translate(1152 0) rotate(180)">CML527</text></g>
<g id="CML529"><text class="f" dy=".35em" transform="rotate(526.21) translate(1152 0) rotate(180)">CML529</text></g>
<g id="CML528"><text class="f" dy=".35em" transform="rotate(529.28) translate(1152 0) rotate(180)">CML528</text></g>
<g id="CML525"><text class="f" dy=".35em" transform="rotate(532.35) translate(1152 0) rotate(180)">CML525</text></g>
<g id="CML524"><text class="f" dy=".35em" transform="rotate(535.42) translate(1152 0) rotate(180)">CML524</text></g>
<g id="CML486"><text class="f" dy=".35em" transform="rotate(538.49) translate(1152 0) rotate(180)">CML486</text></g>
<g id="CML615A"><text class="f" dy=".35em" transform="rotate(541.56) translate(1152 0) rotate(180)">CML615A</text></g>
<g id="PH6WC"><text class="f" dy=".35em" transform="rotate(544.63) translate(1152 0) rotate(180)">PH6WC</text></g>
<g id="JI42"><text class="f" dy=".35em" transform="rotate(547.70) translate(1152 0) rotate(180)">JI42</text></g>
<g id="PH4CV"><text class="f" dy=".35em" transform="rotate(550.77) translate(1152 0) rotate(180)">PH4CV</text></g>
<g id="CHANG7-2"><text class="f" dy=".35em" transform="rotate(553.84) translate(1152 0) rotate(180)">CHANG7-2</text></g>
<g id="JI1877F"><text class="f" dy=".35em" transform="rotate(556.91) translate(1152 0) rotate(180)">JI1877F</text></g>
<g id="Z58"><text class="f" dy=".35em" transform="rotate(559.98) translate(1152 0) rotate(180)">Z58</text></g>
</g>
</g>
<g id="group-labels" class="g">
<text x="3319" y="297">group1</text>
<text x="3513" y="2270">group2</text>
<text x="697" y="2312">group3</text>
<text x="30" y="1109" style="font-size:119px">elite inbred lines</text>
</g>
</svg>
